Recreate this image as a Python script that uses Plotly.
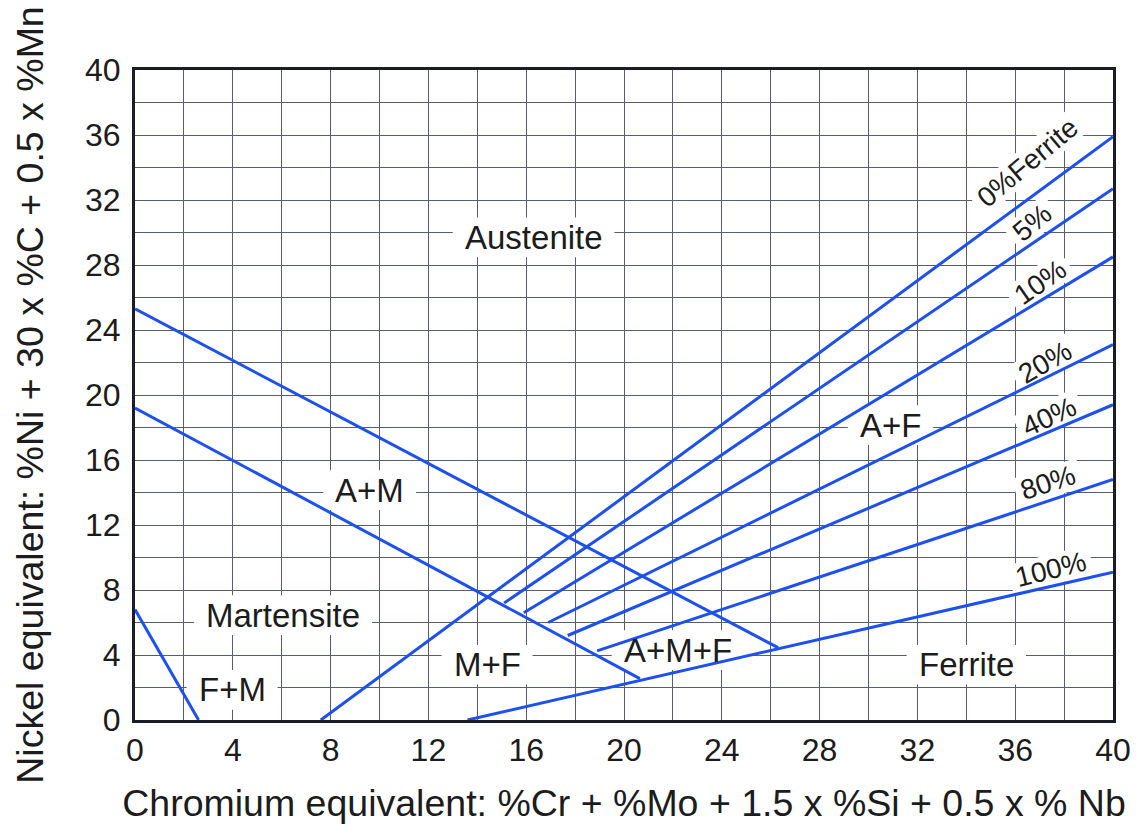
import math
import plotly.graph_objects as go

# Schaeffler constitution diagram for stainless steel weld metal
FONT = "Liberation Sans"
LINE_BLUE = "#1d50f0"
TEXT = "#1c1c1c"

# Phase boundary lines: (Cr_eq, Ni_eq) end points
boundary_names = ["A / A+M", "M / A+M", "F+M"]
boundary_cr_start = [0.0, 0.0, 0.0]
boundary_ni_start = [25.3, 19.2, 6.8]
boundary_cr_end = [26.3, 20.65, 2.6]
boundary_ni_end = [4.45, 2.55, 0.0]

# Iso-ferrite lines
ferrite_labels = ["0%Ferrite", "5%", "10%", "20%", "40%", "80%", "100%"]
ferrite_cr_start = [7.6, 15.1, 15.9, 16.9, 17.7, 18.9, 13.6]
ferrite_ni_start = [0.0, 7.2, 6.6, 6.0, 5.2, 4.25, 0.0]
ferrite_cr_end = [40.0, 40.0, 40.0, 40.0, 40.0, 40.0, 40.0]
ferrite_ni_end = [35.9, 32.7, 28.5, 23.1, 19.4, 14.8, 9.1]

# Iso-ferrite label placement (Cr_eq, Ni_eq, rotation)
ferrite_label_cr = [36.5, 36.7, 37.0, 37.2, 37.4, 37.35, 37.45]
ferrite_label_ni = [34.3, 30.6, 26.95, 22.0, 18.7, 14.6, 9.25]
ferrite_label_angle = [-40, -40, -35, -30, -25, -18, -14]

# Phase field names
region_names = ["Austenite", "A+M", "A+F", "Martensite", "M+F", "A+M+F", "Ferrite", "F+M"]
region_cr = [16.3, 9.6, 30.9, 6.05, 14.4, 22.2, 34.0, 3.97]
region_ni = [29.7, 14.15, 18.15, 6.45, 3.4, 4.3, 3.4, 1.85]

x_ticks = list(range(0, 41, 4))
y_ticks = list(range(0, 41, 4))

# Figure geometry
W, H = 1143, 827
M_L, M_R, M_T, M_B = 135, 30, 70, 107
X_RANGE = [0, 40]
Y_RANGE = [0, 40]
PX_PER_X = (W - M_L - M_R) / (X_RANGE[1] - X_RANGE[0])
PX_PER_Y = (H - M_T - M_B) / (Y_RANGE[1] - Y_RANGE[0])

REGION_SIZE = 33
PCT_SIZE = 28

# Approximate advance widths (em) for sizing the white label patches
_EM = {"A": .667, "u": .556, "s": .5, "t": .278, "e": .556, "n": .556, "i": .222,
       "+": .584, "M": .833, "F": .611, "a": .556, "r": .333, "m": .833,
       "%": .889, " ": .278}


def text_width(txt, size):
    return sum(_EM.get(c, .556) for c in txt) * size


def patch_path(cx, cy, txt, size, angle, pad_x, pad_y):
    """White rotated rectangle behind a label, returned as an SVG path in data units."""
    w = text_width(txt, size) + 2 * pad_x
    h = 0.78 * size + 2 * pad_y
    a = math.radians(angle)
    pts = []
    for sx, sy in [(-1, -1), (1, -1), (1, 1), (-1, 1)]:
        px, py = sx * w / 2, sy * h / 2
        rx = px * math.cos(a) - py * math.sin(a)
        ry = px * math.sin(a) + py * math.cos(a)
        pts.append((cx + rx / PX_PER_X, cy - ry / PX_PER_Y))
    return "M " + " L ".join(f"{x:.4f},{y:.4f}" for x, y in pts) + " Z"


fig = go.Figure()

for i, name in enumerate(boundary_names):
    fig.add_trace(go.Scatter(
        x=[boundary_cr_start[i], boundary_cr_end[i]],
        y=[boundary_ni_start[i], boundary_ni_end[i]],
        mode="lines", name=name,
        line=dict(color=LINE_BLUE, width=3),
        showlegend=False, hoverinfo="skip",
    ))

for i, name in enumerate(ferrite_labels):
    fig.add_trace(go.Scatter(
        x=[ferrite_cr_start[i], ferrite_cr_end[i]],
        y=[ferrite_ni_start[i], ferrite_ni_end[i]],
        mode="lines", name=name,
        line=dict(color=LINE_BLUE, width=3),
        showlegend=False, hoverinfo="skip",
    ))

annotations = []
shapes = []
for name, cx, cy in zip(region_names, region_cr, region_ni):
    annotations.append(dict(
        x=cx, y=cy, xref="x", yref="y", text=name, showarrow=False,
        font=dict(family=FONT, size=REGION_SIZE, color=TEXT),
    ))
    shapes.append(dict(
        type="path", xref="x", yref="y", layer="between",
        path=patch_path(cx, cy, name, REGION_SIZE, 0, 12, 7),
        fillcolor="white", line=dict(width=0),
    ))
for name, cx, cy, ang in zip(ferrite_labels, ferrite_label_cr, ferrite_label_ni, ferrite_label_angle):
    annotations.append(dict(
        x=cx, y=cy, xref="x", yref="y", text=name, showarrow=False,
        textangle=ang,
        font=dict(family=FONT, size=PCT_SIZE, color=TEXT),
    ))
    shapes.append(dict(
        type="path", xref="x", yref="y", layer="between",
        path=patch_path(cx, cy, name, PCT_SIZE, ang, 6, 4),
        fillcolor="white", line=dict(width=0),
    ))

grid_color = "#575c6e"
axis_common = dict(
    showline=True, mirror=True, linecolor="#1a1d26", linewidth=3,
    showgrid=True, gridcolor=grid_color, gridwidth=1.2,
    minor=dict(dtick=2, showgrid=True, gridcolor=grid_color, gridwidth=1.2),
    zeroline=False,
    tickfont=dict(family=FONT, size=32, color=TEXT),
    ticks="",
    automargin=False,
)

fig.update_layout(
    width=W, height=H,
    margin=dict(l=M_L, r=M_R, t=M_T, b=M_B),
    paper_bgcolor="white", plot_bgcolor="white",
    annotations=annotations,
    shapes=shapes,
    xaxis=dict(
        **axis_common,
        range=X_RANGE,
        tickvals=x_ticks,
        ticktext=[str(v) for v in x_ticks],
        ticklabelstandoff=0,
        title=dict(
            text="Chromium equivalent: %Cr + %Mo + 1.5 x %Si + 0.5 x % Nb",
            font=dict(family=FONT, size=37.5, color=TEXT),
            standoff=23,
        ),
    ),
    yaxis=dict(
        **axis_common,
        range=Y_RANGE,
        tickvals=y_ticks,
        ticktext=[str(v) for v in y_ticks],
        ticklabelstandoff=5,
        title=dict(
            text="Nickel equivalent: %Ni + 30 x %C + 0.5 x %Mn",
            font=dict(family=FONT, size=37.5, color=TEXT),
            standoff=30,
        ),
    ),
)

fig.write_html("out.html")
